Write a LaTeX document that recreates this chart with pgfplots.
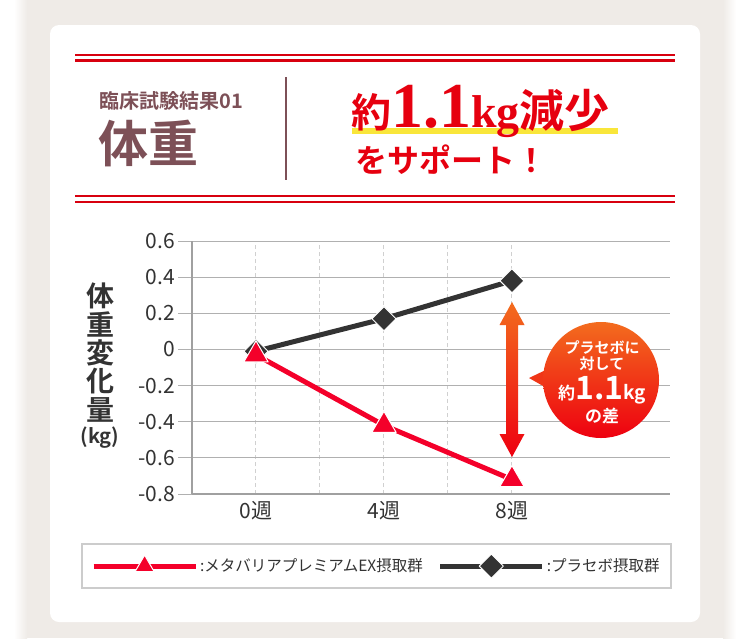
\documentclass[border=0pt]{standalone}
\usepackage{pgfplots}
\pgfplotsset{compat=1.18}
\usepackage{fontspec}
\setmainfont{Noto Sans CJK JP}[BoldFont={Noto Sans CJK JP Bold}]
\newfontfamily\serifnum{Liberation Serif}

\definecolor{bgbeige}{HTML}{EFEBE7}
\definecolor{hdred}{HTML}{D8000F}
\definecolor{brownish}{HTML}{7D5057}
\definecolor{txtred}{HTML}{E6000F}
\definecolor{hlyellow}{HTML}{F9E63A}
\definecolor{linered}{HTML}{F4002A}
\definecolor{linedark}{HTML}{333333}
\definecolor{darktxt}{HTML}{333333}
\definecolor{gridgray}{HTML}{B0B0B0}
\definecolor{axisgray}{HTML}{A0A0A0}
\definecolor{dashgray}{HTML}{D0D0D0}
\definecolor{legendgray}{HTML}{CCCCCC}
\definecolor{calltop}{HTML}{F36C1E}
\definecolor{callbot}{HTML}{EE0010}
\definecolor{callmid}{HTML}{F03617}

\begin{document}
\begin{tikzpicture}
% page, card and header (1 unit = 1 px of the reference, y downwards)
\begin{scope}[x=1pt,y=-1pt]
  \useasboundingbox (0,0) rectangle (750,638);
  \fill[white] (0,0) rectangle (750,638);
  \fill[bgbeige] (26,0) rectangle (724,638);
  \shade[left color=white, right color=bgbeige] (14,0) rectangle (27,638);
  \shade[left color=bgbeige, right color=white] (723,0) rectangle (736,638);
  \fill[white, rounded corners=9pt] (50,25) rectangle (700,622);
  % double rules
  \fill[hdred] (75,54) rectangle (675,56.3);
  \fill[hdred] (75,59.3) rectangle (675,61.6);
  \fill[hdred] (75,194.7) rectangle (675,197);
  \fill[hdred] (75,200.7) rectangle (675,203);
  % left block
  \node[anchor=west, inner sep=0pt, text=brownish,
        font=\fontsize{20}{20}\selectfont\bfseries] at (99,101) {臨床試験結果01};
  \node[anchor=west, inner sep=0pt, text=brownish,
        font=\fontsize{50}{50}\selectfont\bfseries] at (98,143) {体重};
  \draw[brownish, line width=2pt] (286,77) -- (286,180);
  % right block
  \fill[hlyellow] (352,127.5) rectangle (618,134);
  \node[anchor=base west, inner sep=0pt, text=txtred] at (351,127)
    {{\fontsize{40}{40}\selectfont\bfseries 約}%
     {\serifnum\fontsize{64}{64}\selectfont\bfseries 1.1}%
     {\serifnum\fontsize{46}{46}\selectfont\bfseries kg}%
     {\fontsize{45}{45}\selectfont\bfseries 減少}};
  \node[anchor=west, inner sep=0pt, text=txtred,
        font=\fontsize{32}{32}\selectfont\bfseries] at (355,160) {をサポート！};
  % vertical y label
  \foreach \c/\yy in {体/296, 重/324.5, 変/353, 化/381.5, 量/410}
    \node[text=darktxt, inner sep=0pt, font=\fontsize{28}{28}\selectfont\bfseries]
      at (100,\yy) {\c};
  \node[text=darktxt, inner sep=0pt, font=\fontsize{20}{20}\selectfont\bfseries]
    at (100,438) {(kg)};
\end{scope}

\begin{axis}[
  at={(192pt,-494pt)}, anchor=south west,
  scale only axis, width=478pt, height=253pt,
  xmin=-2, xmax=12.94, ymin=-0.8, ymax=0.6,
  axis x line*=bottom, axis y line*=left,
  axis line style={-, draw=axisgray, line width=2pt},
  xtick={0,2,4,6,8}, xticklabels={0週,,4週,,8週},
  ytick={-0.8,-0.6,-0.4,-0.2,0,0.2,0.4,0.6},
  yticklabels={-0.8,-0.6,-0.4,-0.2,0,0.2,0.4,0.6},
  xmajorgrids, ymajorgrids,
  x grid style={color=dashgray, line width=1pt, dash pattern=on 4pt off 3pt},
  y grid style={color=gridgray, line width=1pt},
  ytick align=outside, xtick align=inside, major tick length=14pt,
  ytick style={draw=gridgray, line width=1pt},
  xtick style={draw=none},
  ticklabel style={font=\fontsize{21}{21}\selectfont, text=darktxt},
  yticklabel style={inner xsep=3pt},
  xticklabel style={yshift=-4pt},
  clip=false,
  reverse legend,
  legend columns=2,
  legend cell align=left,
  legend style={at={(axis description cs:-0.232,-0.194)}, anchor=north west,
    draw=legendgray, line width=2pt, inner xsep=9pt, inner ysep=10pt,
    font=\fontsize{15.5}{15.5}\selectfont, text=darktxt,
    /tikz/every even column/.append style={column sep=13pt}},
  legend image code/.code={%
    \draw[mark repeat=2, mark phase=2, #1]
      plot coordinates {(0pt,0pt) (51pt,0pt) (102pt,0pt)};},
]
\addplot[color=linedark, line width=5pt, line join=round,
  mark=square*, mark size=8.5pt,
  mark options={rotate=45, fill=linedark, draw=white, line width=1pt}]
  coordinates {(0,-0.01) (4,0.17) (8,0.38)};
\addlegendentry{:プラセボ摂取群}
\addplot[color=linered, line width=5pt, line join=round,
  mark=triangle*, mark size=14pt,
  mark options={fill=linered, draw=white, line width=1pt},
  legend image post style={mark size=11pt}]
  coordinates {(0,-0.03) (4,-0.42) (8,-0.72)};
\addlegendentry{:メタバリアプレミアムEX摂取群}
\end{axis}

% difference arrow and callout
\begin{scope}[x=1pt,y=-1pt]
  \shade[top color=calltop, bottom color=callbot]
    (512,302) -- (524.5,325) -- (518,325) -- (518,434) -- (524.5,434)
    -- (512,457) -- (499.5,434) -- (506,434) -- (506,325) -- (499.5,325) -- cycle;
  \fill[callmid] (529,378) -- (552,367) -- (552,391) -- cycle;
  \shade[top color=calltop, bottom color=callbot] (601,380) circle[radius=58pt];
  \node[text=white, inner sep=0pt, font=\fontsize{15}{15}\selectfont\bfseries]
    at (602,348) {プラセボに};
  \node[text=white, inner sep=0pt, font=\fontsize{15}{15}\selectfont\bfseries]
    at (602,364) {対して};
  \node[text=white, inner sep=0pt, anchor=base] at (602,399)
    {{\fontsize{17}{17}\selectfont\bfseries 約}%
     {\fontsize{32}{32}\selectfont\bfseries 1.1}%
     {\fontsize{19}{19}\selectfont\bfseries kg}};
  \node[text=white, inner sep=0pt, font=\fontsize{17}{17}\selectfont\bfseries]
    at (602,416) {の差};
\end{scope}
\end{tikzpicture}
\end{document}
